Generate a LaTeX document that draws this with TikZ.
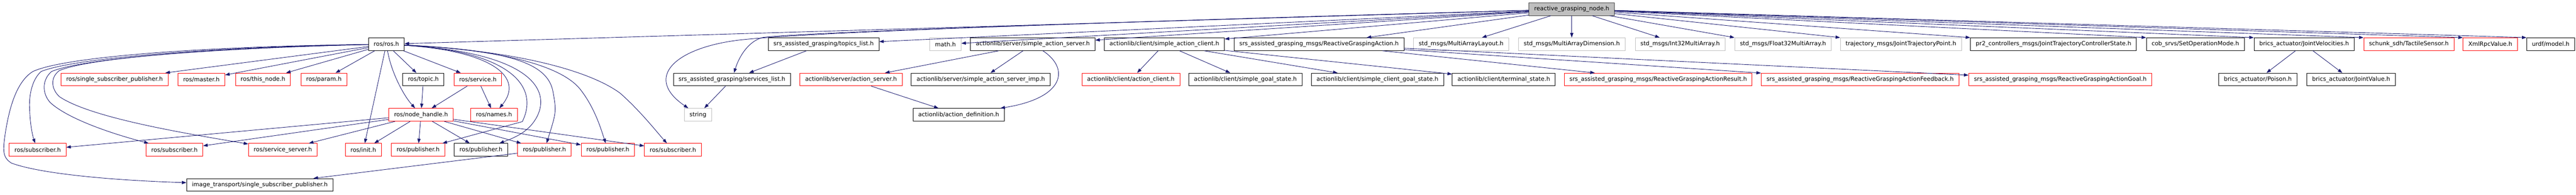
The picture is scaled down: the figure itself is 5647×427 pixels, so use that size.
\documentclass[tikz,border=0pt]{standalone}
\usepackage{fontspec}
\setmainfont{DejaVu Sans}
\usetikzlibrary{arrows.meta}
\definecolor{EdgeBlue}{RGB}{25,25,112}
\definecolor{NoDocGray}{RGB}{191,191,191}
\definecolor{MainBorder}{RGB}{64,64,64}

\begin{document}
\begin{tikzpicture}[x=1pt, y=-1pt, font=\fontsize{12.8}{15}\selectfont]
        \tikzstyle{file} = [rectangle, draw=black, line width=1pt, minimum height=28pt,
          inner xsep=11.5pt, inner ysep=0pt, text=black]
        \tikzstyle{docd} = [file]
        \tikzstyle{trunc} = [file, draw=red]
        \tikzstyle{nodoc} = [file, draw=NoDocGray]
        \tikzstyle{mainfile} = [file, draw=MainBorder, fill=NoDocGray]
        \tikzstyle{inc} = [draw=EdgeBlue, line width=1pt, -{Triangle[length=10pt, width=7pt]}]

        \useasboundingbox (0,0) rectangle (5647,427);

        \node[mainfile] (rgn) at (3445.5,20) {reactive\_grasping\_node.h};

        % first level
        \foreach \nm/\x/\st/\lbl in {rosh/847/docd/{ros/ros.h},
            topics/1805.5/docd/{srs\_assisted\_grasping/topics\_list.h},
            mathh/2072.5/nodoc/{math.h},
            sas/2264/docd/{actionlib/server/simple\_action\_server.h},
            sac/2552.5/docd/{actionlib/client/simple\_action\_client.h},
            rga/2891.5/docd/{srs\_assisted\_grasping\_msgs/ReactiveGraspingAction.h},
            malayout/3203/nodoc/{std\_msgs/MultiArrayLayout.h},
            madim/3445.5/nodoc/{std\_msgs/MultiArrayDimension.h},
            ithree/3683/nodoc/{std\_msgs/Int32MultiArray.h},
            fthree/3908.5/nodoc/{std\_msgs/Float32MultiArray.h},
            jtp/4167/nodoc/{trajectory\_msgs/JointTrajectoryPoint.h},
            jtcs/4501.5/docd/{pr2\_controllers\_msgs/JointTrajectoryControllerState.h},
            setop/4812.5/docd/{cob\_srvs/SetOperationMode.h},
            jvel/5051/docd/{brics\_actuator/JointVelocities.h},
            tactile/5280.5/trunc/{schunk\_sdh/TactileSensor.h},
            xmlrpc/5459/trunc/{XmlRpcValue.h},
            urdf/5591.5/docd/{urdf/model.h}}
          \node[\st] (\nm) at (\x,97) {\lbl};

        % second level
        \foreach \nm/\x/\st/\lbl in {ssp/251/trunc/{ros/single\_subscriber\_publisher.h},
            master/441.5/trunc/{ros/master.h},
            thisnode/576.5/trunc/{ros/this\_node.h},
            param/710/trunc/{ros/param.h},
            topic/928/docd/{ros/topic.h},
            service/1047.5/trunc/{ros/service.h},
            srvlist/1604.5/docd/{srs\_assisted\_grasping/services\_list.h},
            asrv/1865.5/trunc/{actionlib/server/action\_server.h},
            sasimp/2150/docd/{actionlib/server/simple\_action\_server\_imp.h},
            acl/2479/trunc/{actionlib/client/action\_client.h},
            sgs/2730/docd/{actionlib/client/simple\_goal\_state.h},
            scgs/3019.5/docd/{actionlib/client/simple\_client\_goal\_state.h},
            tstate/3296.5/docd/{actionlib/client/terminal\_state.h},
            rgares/3635/trunc/{srs\_assisted\_grasping\_msgs/ReactiveGraspingActionResult.h},
            rgafb/4077.5/trunc/{srs\_assisted\_grasping\_msgs/ReactiveGraspingActionFeedback.h},
            rgagoal/4516.5/trunc/{srs\_assisted\_grasping\_msgs/ReactiveGraspingActionGoal.h},
            poison/4949.5/docd/{brics\_actuator/Poison.h},
            jval/5154/docd/{brics\_actuator/JointValue.h}}
          \node[\st] (\nm) at (\x,174.5) {\lbl};

        % third level
        \node[trunc] (nh) at (923,252) {ros/node\_handle.h};
        \node[trunc] (names) at (1083,252) {ros/names.h};
        \node[nodoc] (string) at (1530,252) {string};
        \node[docd] (adef) at (2101.5,252) {actionlib/action\_definition.h};

        % fourth level
        \foreach \nm/\x/\st/\lbl in {sub1/82.5/trunc/{ros/subscriber.h},
            sub2/382.5/trunc/{ros/subscriber.h},
            ssrv/620/trunc/{ros/service\_server.h},
            init/796.5/trunc/{ros/init.h},
            pub1/916.5/trunc/{ros/publisher.h},
            pub2/1054.5/docd/{ros/publisher.h},
            pub3/1193.5/trunc/{ros/publisher.h},
            pub4/1332.5/trunc/{ros/publisher.h},
            sub3/1475/trunc/{ros/subscriber.h}}
          \node[\st] (\nm) at (\x,329) {\lbl};

        \node[docd] (itssp) at (569.5,406) {image\_transport/single\_subscriber\_publisher.h};

        % includes of the main file
        \foreach \t in {rosh,topics,mathh,sas,sac,rga,malayout,madim,ithree}
          \draw[inc] (rgn) -- (\t);
        \foreach \t in {fthree,jtp,jtcs,setop,jvel,tactile,xmlrpc,urdf}
          \draw[inc] (rgn) -- (\t.north west);
        \draw[inc] (rgn) .. controls (2300,52) and (1760,72) .. (1673,82)
          .. controls (1640,90) and (1620,125) .. (srvlist);
        \draw[inc] (rgn) .. controls (2300,52) and (1760,72) .. (1620,88)
          .. controls (1480,105) and (1410,170) .. (string);

        % ros/ros.h
        \foreach \t in {ssp,master,thisnode,param,topic,service,init}
          \draw[inc] (rosh) -- (\t);
        \draw[inc] (rosh) .. controls (858,160) and (885,210) .. (nh);
        \draw[inc] (rosh) .. controls (440,102) and (140,125) .. (72,157)
          .. controls (35,180) and (20,240) .. (12,290)
          .. controls (6,330) and (5,345) .. (25,358)
          .. controls (90,382) and (250,396) .. (itssp);
        \draw[inc] (rosh) .. controls (460,103) and (160,128) .. (90,157)
          .. controls (70,175) and (63,210) .. (65,240)
          .. controls (66,275) and (72,300) .. (sub1);
        \draw[inc] (rosh) .. controls (480,104) and (180,128) .. (113,157)
          .. controls (92,175) and (92,205) .. (110,225)
          .. controls (150,262) and (250,295) .. (sub2);
        \draw[inc] (rosh) .. controls (500,105) and (200,125) .. (130,155)
          .. controls (110,170) and (112,195) .. (130,212)
          .. controls (200,260) and (420,295) .. (ssrv);
        \draw[inc] (rosh) .. controls (1080,112) and (1150,170) .. (names);
        \draw[inc] (rosh) .. controls (1110,112) and (1185,185) .. (1145,267) -- (pub1);
        \draw[inc] (rosh) .. controls (1150,115) and (1205,190) .. (1180,250)
          .. controls (1165,285) and (1135,300) .. (pub2);
        \draw[inc] (rosh) .. controls (1120,110) and (1200,140) .. (1212,200)
          .. controls (1220,245) .. (pub3);
        \draw[inc] (rosh) .. controls (1120,110) and (1240,150) .. (1275,200)
          .. controls (1305,240) and (1318,285) .. (pub4);
        \draw[inc] (rosh) .. controls (1150,112) and (1300,160) .. (1360,205)
          .. controls (1405,245) and (1440,290) .. (sub3);

        \draw[inc] (topic) -- (nh);
        \draw[inc] (service) -- (nh);
        \draw[inc] (service) -- (names);
        \foreach \t in {sub1,sub2,ssrv,init,pub1,pub2,pub3,pub4,sub3}
          \draw[inc] (nh) -- (\t);
        \draw[inc] (pub3) -- (itssp);

        % the rest
        \draw[inc] (topics) -- (srvlist);
        \draw[inc] (srvlist) -- (string);
        \draw[inc] (sas) -- (asrv);
        \draw[inc] (sas) -- (sasimp);
        \draw[inc] (sas) .. controls (2345,150) and (2335,215) .. (adef);
        \draw[inc] (asrv) -- (adef);
        \foreach \t in {acl,sgs,scgs,tstate}
          \draw[inc] (sac) -- (\t);
        \foreach \t in {rgares,rgafb,rgagoal}
          \draw[inc] (rga) -- (\t);
        \draw[inc] (jvel) -- (poison);
        \draw[inc] (jvel) -- (jval);
\end{tikzpicture}
\end{document}
